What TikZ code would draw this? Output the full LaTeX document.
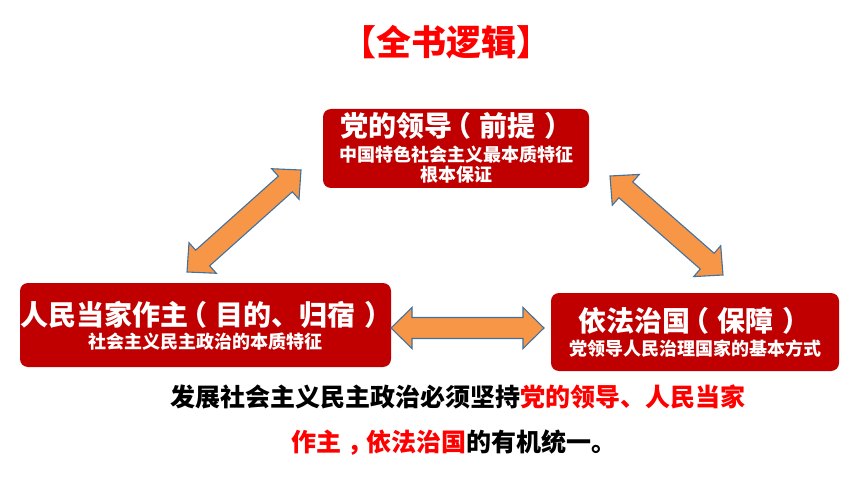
\documentclass[tikz,border=0pt]{standalone}
\usepackage{fontspec}
\setmainfont{Noto Sans CJK SC}
\usetikzlibrary{calc}
\definecolor{boxred}{HTML}{C00000}
\definecolor{brightred}{HTML}{FF0000}
\definecolor{arrfill}{HTML}{F79646}
\definecolor{arredge}{HTML}{41719C}
\newcommand{\lpar}{\makebox[1em][l]{\hspace{-0.3em}（}}
\newcommand{\rpar}{\makebox[1em][l]{\hspace{0.3em}）}}
\newcommand{\ccomma}{\makebox[1em][l]{\hspace{0.22em}，}}
\tikzset{
  redbox/.style={fill=boxred, draw=none, rounded corners=8pt, inner sep=0pt},
  bigtxt/.style={text=white, font=\bfseries\fontsize{28}{30}\selectfont, inner sep=0pt},
  smalltxt/.style={text=white, font=\bfseries\fontsize{18}{20}\selectfont, inner sep=0pt},
  bottomtxt/.style={text=black, font=\bfseries\fontsize{25}{28}\selectfont, inner sep=0pt},
  dblarrowstyle/.style={fill=arrfill, draw=arredge, line width=1.1pt, line join=miter}
}
% #1 tip A, #2 tip B
\newcommand{\mydblarrow}[2]{%
  \path ($(#1)!21pt!(#2)$) coordinate (P1) ($(#2)!21pt!(#1)$) coordinate (P2);
  \draw[dblarrowstyle] (#1)
    -- ($(P1)!20.5pt!90:(#2)$) -- ($(P1)!10.5pt!90:(#2)$)
    -- ($(P2)!10.5pt!-90:(#1)$) -- ($(P2)!20.5pt!-90:(#1)$)
    -- (#2)
    -- ($(P2)!20.5pt!90:(#1)$) -- ($(P2)!10.5pt!90:(#1)$)
    -- ($(P1)!10.5pt!-90:(#2)$) -- ($(P1)!20.5pt!-90:(#2)$)
    -- cycle;}
\begin{document}
\begin{tikzpicture}[x=1pt,y=-1pt]
\useasboundingbox[fill=white] (0,0) rectangle (860,484);
% title
\node[text=brightred, font=\bfseries\fontsize{35}{38}\selectfont, inner sep=0pt] (title) at (446,42) {【全书逻辑】};
% boxes
\node[redbox, minimum width=266pt, minimum height=79pt] (top) at (456,148.5) {};
\node[redbox, minimum width=371pt, minimum height=84pt] (left) at (205.5,325) {};
\node[redbox, minimum width=288pt, minimum height=78pt] (right) at (695,332) {};
% box texts
\node[bigtxt] (t1) at (452,126) {党的领导\lpar 前提\rpar};
\node[smalltxt] (t2) at (456,155) {中国特色社会主义最本质特征};
\node[smalltxt] (t3) at (456,175) {根本保证};
\node[bigtxt] (l1) at (202,315) {人民当家作主\lpar 目的、归宿\rpar};
\node[smalltxt] (l2) at (205,342) {社会主义民主政治的本质特征};
\node[bigtxt] (r1) at (690,321) {依法治国\lpar 保障\rpar};
\node[smalltxt] (r2) at (695,349) {党领导人民治理国家的基本方式};
% arrows
\coordinate (a1) at (187,272);
\coordinate (a2) at (301,170);
\coordinate (b1) at (610,176);
\coordinate (b2) at (723,275);
\coordinate (c1) at (391,328);
\coordinate (c2) at (544,328);
\mydblarrow{a1}{a2}
\mydblarrow{b1}{b2}
\mydblarrow{c1}{c2}
% bottom text
\node[bottomtxt] (s1) at (458,397) {发展社会主义民主政治必须坚持\textcolor{brightred}{党的领导、人民当家}};
\node[bottomtxt] (s2) at (454,443) {\textcolor{brightred}{作主\ccomma 依法治国}的有机统一。};
\end{tikzpicture}
\end{document}
